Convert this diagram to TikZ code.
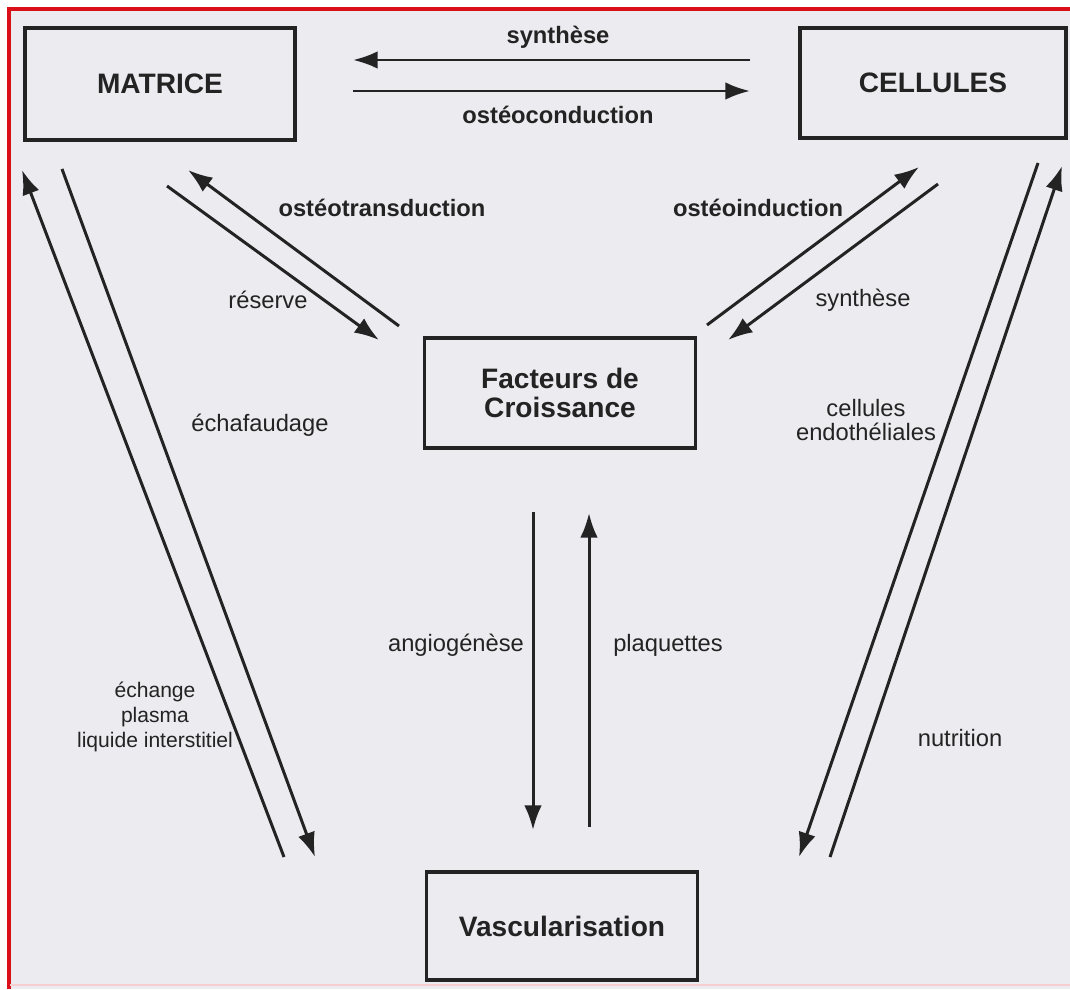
\documentclass[tikz,border=0pt]{standalone}
\usepackage{fontspec}
\setmainfont{Liberation Sans}
\usetikzlibrary{arrows.meta}
\definecolor{papier}{HTML}{ECEBF0}
\definecolor{encre}{HTML}{232323}
\definecolor{cadre}{HTML}{DA0F18}
\tikzset{
	boite/.style = {draw = encre, line width = 1.8pt, inner sep = 0pt, text = encre, align = center,
		font = \fontsize{16}{17}\selectfont\bfseries},
	fleche/.style = {draw = encre, line width = 1.7pt, -{Latex[length = 14pt, width = 10pt]}},
	etiq/.style = {text = encre, align = center, inner sep = 1pt, font = \fontsize{13.5}{14}\selectfont},
	etiqgras/.style = {etiq, font = \fontsize{13.5}{14}\selectfont\bfseries},
	petite/.style = {etiq, font = \fontsize{12}{14}\selectfont}
}
\begin{document}
\begin{tikzpicture} [x = 0.02cm, y = -0.02cm]
	\useasboundingbox (0,0) rectangle (1070,989);
	\fill [white] (0,0) rectangle (1070,989);
	\fill [papier] (10,10) rectangle (1070,989);
	\draw [cadre, line width = 2.2pt] (9,989) -- (9,9) -- (1070,9);
	\draw [cadre!20, line width = 1pt] (10,985) -- (1070,985);
	% les boites
	\node [boite, minimum width = 5.4cm, minimum height = 2.24cm] (mat) at (160,84) {MATRICE};
	\node [boite, minimum width = 5.32cm, minimum height = 2.2cm] (cel) at (933,83) {CELLULES};
	\node [boite, minimum width = 5.42cm, minimum height = 2.2cm] (fac) at (560,393) {Facteurs de\\Croissance};
	\node [boite, minimum width = 5.42cm, minimum height = 2.16cm] (vas) at (562,926) {Vascularisation};
	% extremites des fleches
	\coordinate (synD) at (750,60);   \coordinate (synG) at (353,60);
	\coordinate (conG) at (353,91);   \coordinate (conD) at (750,91);
	\coordinate (traB) at (399,326);  \coordinate (traH) at (188,170);
	\coordinate (resH) at (167,186);  \coordinate (resB) at (379,340);
	\coordinate (indB) at (707,325);  \coordinate (indH) at (919,167);
	\coordinate (synH) at (938,184);  \coordinate (synB) at (728,340);
	\coordinate (echB) at (284,857);  \coordinate (echH) at (22,170);
	\coordinate (ecfH) at (62,169);   \coordinate (ecfB) at (315,857);
	\coordinate (nutH) at (1038,163); \coordinate (nutB) at (799,857);
	\coordinate (endB) at (830,857);  \coordinate (endH) at (1062,166);
	\coordinate (angH) at (533,512);  \coordinate (angB) at (533,830);
	\coordinate (plaB) at (589,827);  \coordinate (plaH) at (589,513);
	\draw [fleche] (synD) -- (synG);
	\draw [fleche] (conG) -- (conD);
	\draw [fleche] (traB) -- (traH);
	\draw [fleche] (resH) -- (resB);
	\draw [fleche] (indB) -- (indH);
	\draw [fleche] (synH) -- (synB);
	\draw [fleche] (echB) -- (echH);
	\draw [fleche] (ecfH) -- (ecfB);
	\draw [fleche] (nutH) -- (nutB);
	\draw [fleche] (endB) -- (endH);
	\draw [fleche] (angH) -- (angB);
	\draw [fleche] (plaB) -- (plaH);
	% les etiquettes
	\node [etiqgras] (lsyn) at (558,37) {synthèse};
	\node [etiqgras] (lcon) at (558,115) {ostéoconduction};
	\node [etiqgras] (ltra) at (382,208) {ostéotransduction};
	\node [etiqgras] (lind) at (758,208) {ostéoinduction};
	\node [etiq] (lres) at (268,300) {réserve};
	\node [etiq] (lsyn2) at (863,300) {synthèse};
	\node [etiq] (lecf) at (260,425) {échafaudage};
	\node [etiq] (lend) at (866,420) {cellules\\endothéliales};
	\node [etiq] (lang) at (456,645) {angiogénèse};
	\node [etiq] (lpla) at (668,645) {plaquettes};
	\node [petite] (lech) at (155,717) {échange\\plasma\\liquide interstitiel};
	\node [etiq] (lnut) at (960,738) {nutrition};
	%\draw (560,650) node {$\ldots$};
\end{tikzpicture}
\end{document}
